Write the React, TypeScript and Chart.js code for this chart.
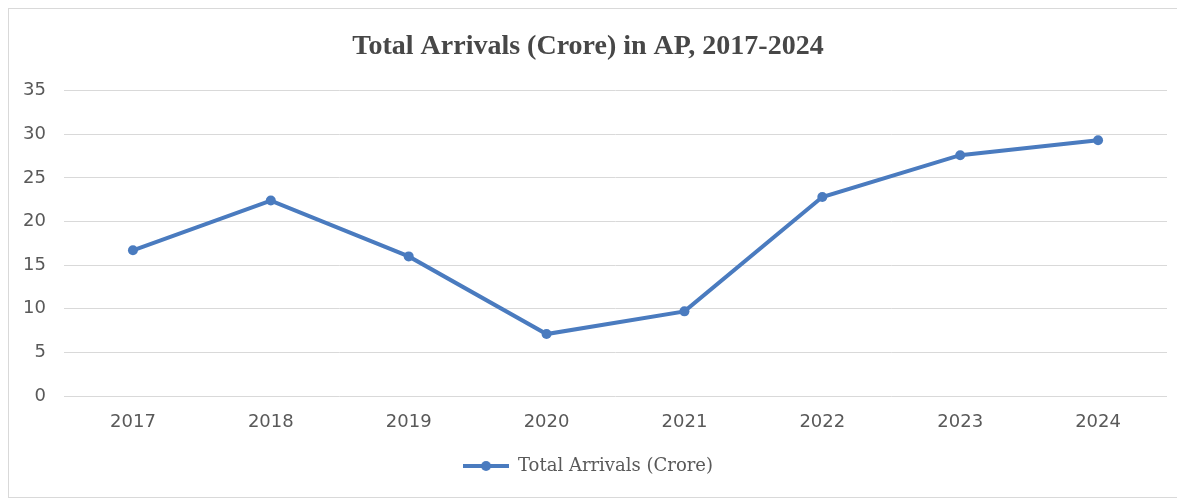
import React, { useEffect, useRef } from "react";
import { Chart, registerables } from "chart.js";

Chart.register(...registerables);

const years = ["2017", "2018", "2019", "2020", "2021", "2022", "2023", "2024"];
const arrivals = [16.7, 22.4, 16.0, 7.1, 9.7, 22.8, 27.6, 29.3];
const seriesLabel = "Total Arrivals (Crore)";
const chartTitle = "Total Arrivals (Crore) in AP, 2017-2024";
const yMin = 0;
const yMax = 35;
const yStep = 5;

const BLUE = "#4A7BBF";
const GRID = "#d9d9d9";
const TEXT = "#595959";
const TITLE = "#474747";

function makeLegendSymbol(): HTMLCanvasElement {
  const c = document.createElement("canvas");
  c.width = 46;
  c.height = 12;
  const ctx = c.getContext("2d")!;
  ctx.strokeStyle = BLUE;
  ctx.lineWidth = 4;
  ctx.beginPath();
  ctx.moveTo(0, 6);
  ctx.lineTo(46, 6);
  ctx.stroke();
  ctx.fillStyle = BLUE;
  ctx.beginPath();
  ctx.arc(23, 6, 5, 0, Math.PI * 2);
  ctx.fill();
  return c;
}

export default function App() {
  const ref = useRef<HTMLCanvasElement | null>(null);

  useEffect(() => {
    if (!ref.current) return;
    const symbol = makeLegendSymbol();
    const chart = new Chart(ref.current, {
      type: "line",
      data: {
        labels: years,
        datasets: [
          {
            label: seriesLabel,
            data: arrivals,
            borderColor: BLUE,
            backgroundColor: BLUE,
            borderWidth: 4,
            pointRadius: 5,
            pointBackgroundColor: BLUE,
            pointBorderColor: BLUE,
            pointBorderWidth: 0,
            tension: 0,
            fill: false,
          },
        ],
      },
      options: {
        animation: false,
        responsive: false,
        layout: { padding: { left: 0, right: 12, top: 0, bottom: 12 } },
        plugins: {
          title: {
            display: true,
            text: chartTitle,
            color: TITLE,
            font: { family: "'Liberation Serif', serif", size: 28, weight: "bold" },
            padding: { top: 21, bottom: 27 },
          },
          legend: {
            position: "bottom",
            labels: {
              color: TEXT,
              font: { family: "'DejaVu Serif', serif", size: 18 },
              usePointStyle: true,
              pointStyleWidth: 46,
              boxHeight: 12,
              padding: 10,
              generateLabels: () => [
                {
                  text: seriesLabel,
                  pointStyle: symbol as any,
                  fillStyle: BLUE,
                  strokeStyle: BLUE,
                  lineWidth: 0,
                  fontColor: TEXT,
                  datasetIndex: 0,
                  hidden: false,
                } as any,
              ],
            },
          },
          tooltip: { enabled: false },
        },
        scales: {
          x: {
            offset: true,
            grid: { display: false, drawTicks: false },
            border: { display: false },
            ticks: {
              color: TEXT,
              font: { family: "'DejaVu Sans', sans-serif", size: 18 },
              padding: 16,
              maxRotation: 0,
            },
            afterFit: (s: any) => {
              s.height = 51;
            },
          },
          y: {
            min: yMin,
            max: yMax,
            grid: { color: GRID, lineWidth: 1, drawTicks: false },
            border: { display: false },
            ticks: {
              stepSize: yStep,
              color: TEXT,
              font: { family: "'DejaVu Sans', sans-serif", size: 18 },
              padding: 18,
            },
            afterFit: (s: any) => {
              s.width = 55;
            },
          },
        },
      },
    });
    return () => chart.destroy();
  }, []);

  return (
    <div
      style={{
        width: 1172,
        height: 490,
        border: "1px solid #d9d9d9",
        boxSizing: "border-box",
        background: "#fff",
      }}
    >
      <canvas ref={ref} width={1170} height={488} style={{ display: "block" }} />
    </div>
  );
}
